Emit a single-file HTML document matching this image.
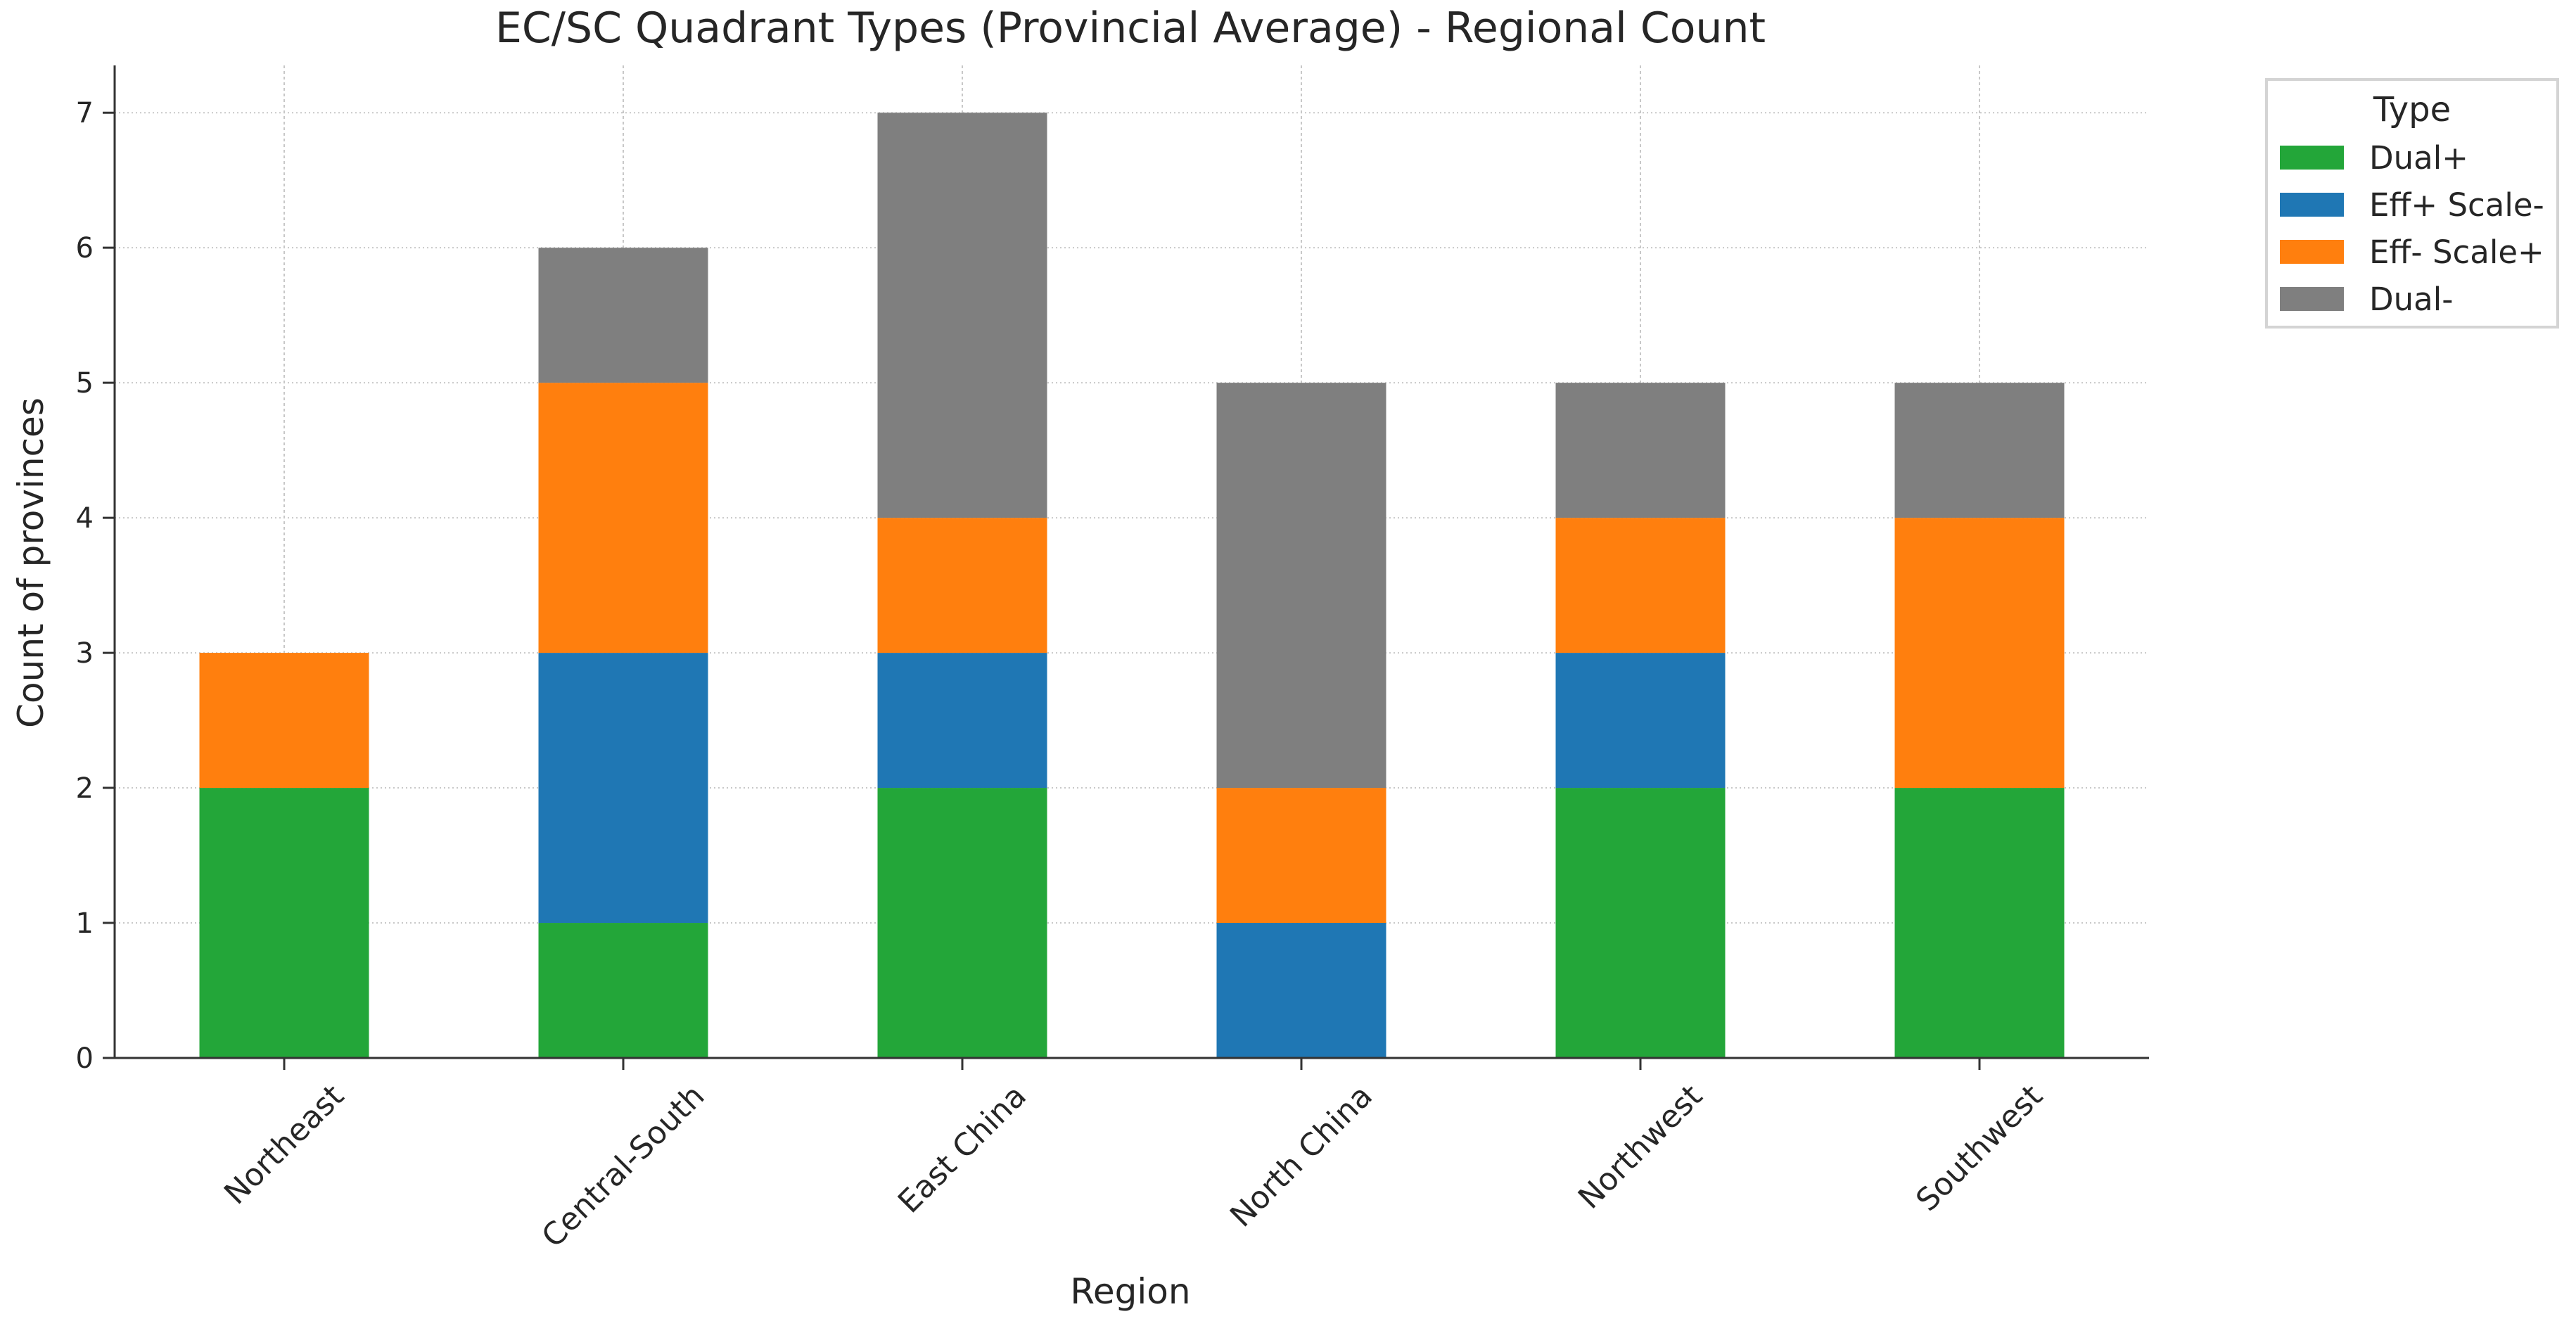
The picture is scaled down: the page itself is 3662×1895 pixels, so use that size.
<!DOCTYPE html>
<html><head><meta charset="utf-8"><style>
html,body{margin:0;padding:0;background:#fff;}
svg{display:block;font-family:"DejaVu Sans","Liberation Sans",sans-serif;}
</style></head><body>
<svg id="chart" width="3662" height="1895" viewBox="0 0 3662 1895" xmlns="http://www.w3.org/2000/svg">
<rect x="0" y="0" width="3662" height="1895" fill="#fff"/>
<g id="grid"></g>
<g id="bars"></g>
<g id="axes"></g>
<text x="1607" y="60" font-size="60" fill="#262626" text-anchor="middle">EC/SC Quadrant Types (Provincial Average) - Regional Count</text>
<text x="1607" y="1853" font-size="50" fill="#262626" text-anchor="middle">Region</text>
<text transform="translate(61,800) rotate(-90)" font-size="50" fill="#262626" text-anchor="middle">Count of provinces</text>
<g id="legend"></g>
</svg>
<script>
const categories = ["Northeast","Central-South","East China","North China","Northwest","Southwest"];
const seriesNames = ["Dual+","Eff+ Scale-","Eff- Scale+","Dual-"];
const dualPlus = [2,1,2,0,2,2];
const effPlusScaleMinus = [0,2,1,1,1,0];
const effMinusScalePlus = [1,2,1,1,1,2];
const dualMinus = [0,1,3,3,1,1];
const yTicks = [0,1,2,3,4,5,6,7];

const seriesValues = [dualPlus, effPlusScaleMinus, effMinusScalePlus, dualMinus];
const colors = ["#23a639","#1f77b4","#ff7f0e","#7f7f7f"];
const NS = "http://www.w3.org/2000/svg";
const L = 163, R = 3055, T = 93, B = 1504;
const yMax = 7.35;
const n = categories.length;
function xScale(i){ return L + (i + 0.5) / n * (R - L); }
function yScale(v){ return B - v / yMax * (B - T); }
const band = (R - L) / n;
const barW = band * 0.5;

function mk(tag, attrs, parent){
  const e = document.createElementNS(NS, tag);
  for (const k in attrs) e.setAttribute(k, attrs[k]);
  parent.appendChild(e);
  return e;
}
const grid = document.getElementById('grid');
const bars = document.getElementById('bars');
const axes = document.getElementById('axes');
const legend = document.getElementById('legend');

yTicks.forEach(t => {
  const y = yScale(t);
  const g = mk('line', {x1:L, x2:R, y1:y, y2:y, stroke:'#c8c8c8', 'stroke-width':2, 'stroke-dasharray':'2,4'}, grid);
  
  
  const tk = mk('line', {x1:L-17, x2:L, y1:y, y2:y, stroke:'#333', 'stroke-width':3}, axes);
  
  
  const lb = mk('text', {x:L-30, y:y+14, 'font-size':40, fill:'#262626', 'text-anchor':'end'}, axes);
  lb.textContent = t;
  
  
});
categories.forEach((c, i) => {
  const x = xScale(i);
  const g = mk('line', {x1:x, x2:x, y1:T, y2:B, stroke:'#c8c8c8', 'stroke-width':2, 'stroke-dasharray':'4,4'}, grid);
  
  
  let base = 0;
  seriesValues.forEach((vals, s) => {
    const v = vals[i];
    if (v > 0) {
      const r = mk('rect', {x:x-barW/2, y:yScale(base+v), width:barW, height:yScale(base)-yScale(base+v), fill:colors[s]}, bars);
      
      
    }
    base += v;
  });
  const tk = mk('line', {x1:x, x2:x, y1:B, y2:B+17, stroke:'#333', 'stroke-width':3}, axes);
  
  
  const lb = mk('text', {'font-size':44, fill:'#262626', 'text-anchor':'middle', 'dominant-baseline':'central'}, axes);
  lb.textContent = c;
  
  
  const len = lb.getComputedTextLength();
  const cy = 1535 + (len + 44) * 0.7071 / 2;
  lb.setAttribute('x', x);
  lb.setAttribute('y', cy);
  lb.setAttribute('transform', 'rotate(-45 ' + x + ' ' + cy + ')');
});
const ys = mk('line', {x1:L, x2:L, y1:T, y2:B+1.5, stroke:'#333', 'stroke-width':3}, axes);


const xs = mk('line', {x1:L-1.5, x2:R, y1:B, y2:B, stroke:'#333', 'stroke-width':3}, axes);



const box = mk('rect', {x:3222, y:113, width:414, height:352, fill:'#fff', stroke:'#d4d4d4', 'stroke-width':4}, legend);


const lt = mk('text', {x:3429, y:172, 'font-size':48, fill:'#262626', 'text-anchor':'middle'}, legend);
lt.textContent = 'Type';


seriesNames.forEach((nm, s) => {
  const y = 224 + s * 67;
  const sw = mk('rect', {x:3241, y:y-17, width:91, height:34, fill:colors[s]}, legend);
  
  
  const t = mk('text', {x:3368, y:y+16, 'font-size':45, fill:'#262626'}, legend);
  t.textContent = nm;
  
  
});
</script>
</body></html>
